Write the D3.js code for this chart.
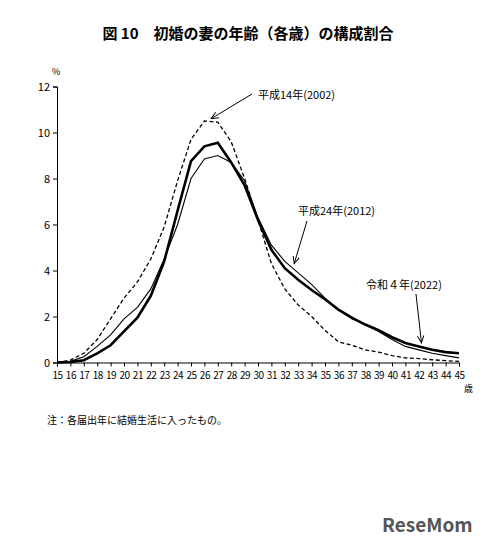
<!DOCTYPE html>
<html><head><meta charset="utf-8">
<script src="https://cdn.jsdelivr.net/npm/d3@7"></script>
<style>body{margin:0;background:#fff}text{font-family:"Noto Sans CJK JP","Noto Sans",sans-serif}</style>
</head><body><div id="chart"></div>
<script>
const ages = d3.range(15, 46);
const yTicks = [0, 2, 4, 6, 8, 10, 12];
const v2002 = [0,0.1,0.4,1.0,1.9,2.8,3.5,4.5,5.9,7.9,9.7,10.5,10.45,9.6,8.0,6.2,4.3,3.2,2.5,2.0,1.4,0.9,0.75,0.55,0.45,0.3,0.2,0.17,0.12,0.08,0.05];
const v2012 = [0,0.05,0.25,0.7,1.2,1.9,2.4,3.2,4.5,6.0,8.0,8.85,9.0,8.7,7.9,6.3,5.1,4.4,3.9,3.4,2.8,2.3,1.9,1.65,1.35,1.0,0.7,0.55,0.4,0.3,0.2];
const v2022 = [0,0.02,0.1,0.4,0.75,1.35,1.95,2.9,4.4,6.6,8.75,9.4,9.55,8.7,7.7,6.2,4.9,4.1,3.6,3.15,2.75,2.3,1.95,1.65,1.4,1.1,0.85,0.7,0.55,0.45,0.4];

const width = 496, height = 550;
const svg = d3.select("#chart").append("svg").attr("width", width).attr("height", height);

const x = d3.scaleLinear().domain([15, 45]).range([57, 459]);
const y = d3.scaleLinear().domain([0, 12]).range([362.5, 86.5]);

svg.append("text").attr("x", 248).attr("y", 39).attr("text-anchor", "middle")
    .attr("font-size", 15).attr("font-weight", "bold").text("図 10　初婚の妻の年齢（各歳）の構成割合");

svg.append("g").attr("transform", `translate(${x(15)},0)`)
    .call(d3.axisLeft(y).tickValues(yTicks).tickSize(4))
    .call(g => g.selectAll("text").attr("font-size", 11).attr("font-family", "Liberation Sans"));
svg.append("g").attr("transform", `translate(0,${y(0)})`)
    .call(d3.axisBottom(x).tickValues(ages).tickSize(4).tickPadding(5).tickFormat(d3.format("d")))
    .call(g => g.selectAll("text").attr("font-size", 10).attr("font-family", "Liberation Sans Narrow, Liberation Sans").attr("letter-spacing", -0.5));
svg.selectAll(".domain, .tick line").attr("stroke", "#000");

svg.append("text").attr("x", 52).attr("y", 75).attr("font-size", 9).text("%");
svg.append("text").attr("x", 464).attr("y", 392).attr("font-size", 9).text("歳");

const line = d3.line().x((d, i) => x(ages[i])).y(d => y(d));
svg.append("path").datum(v2002).attr("d", line).attr("fill", "none").attr("stroke", "#000").attr("stroke-width", 1.3).attr("stroke-dasharray", "4,2.5");
svg.append("path").datum(v2012).attr("d", line).attr("fill", "none").attr("stroke", "#000").attr("stroke-width", 1.1);
svg.append("path").datum(v2022).attr("d", line).attr("fill", "none").attr("stroke", "#000").attr("stroke-width", 2.6);

svg.append("defs").append("marker").attr("id", "ah").attr("viewBox", "0 0 10 10")
    .attr("refX", 9).attr("refY", 5).attr("markerWidth", 8).attr("markerHeight", 8).attr("orient", "auto")
    .append("path").attr("d", "M0,1 L9,5 L0,9").attr("fill", "none").attr("stroke", "#000").attr("stroke-width", 1.2);

const notes = [
    {t: "平成14年(2002)", tx: 258, ty: 99, x1: 252, y1: 94, a: 26.5, v: 10.6},
    {t: "平成24年(2012)", tx: 298, ty: 215, x1: 307, y1: 221, a: 32.7, v: 4.3},
    {t: "令和４年(2022)", tx: 366, ty: 289, x1: 416, y1: 294, a: 42.2, v: 0.85}
];
notes.forEach(n => {
    svg.append("text").attr("x", n.tx).attr("y", n.ty).attr("font-size", 11).text(n.t);
    svg.append("line").attr("x1", n.x1).attr("y1", n.y1).attr("x2", x(n.a)).attr("y2", y(n.v))
        .attr("stroke", "#000").attr("stroke-width", 1).attr("marker-end", "url(#ah)");
});

svg.append("text").attr("x", 47).attr("y", 424).attr("font-size", 10)
    .attr("font-family", "Noto Serif CJK JP, serif").text("注：各届出年に結婚生活に入ったもの。");

svg.append("text").attr("x", 382).attr("y", 532).attr("font-size", 19).attr("font-weight", "bold")
    .attr("fill", "#555").attr("font-family", "Liberation Sans").text("ReseMom");
</script></body></html>
